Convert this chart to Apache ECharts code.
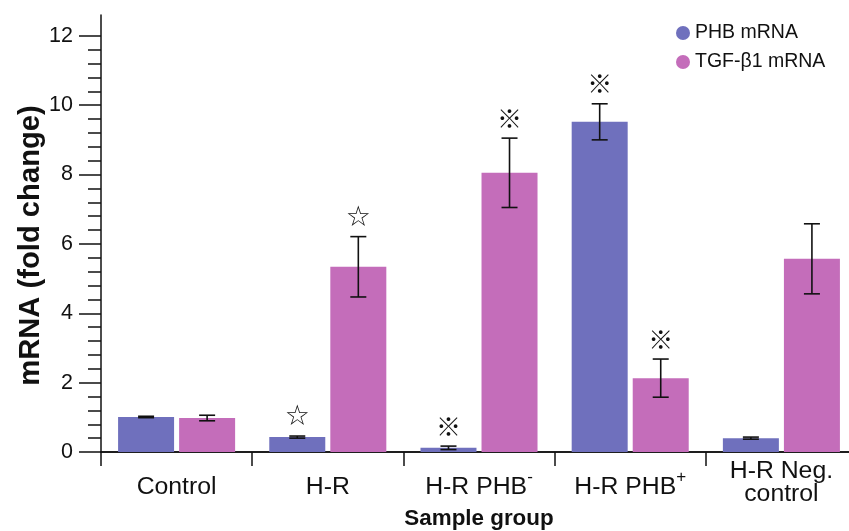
<!DOCTYPE html>
<html>
<head>
<meta charset="utf-8">
<script src="https://cdn.jsdelivr.net/npm/echarts@6/dist/echarts.min.js"></script>
<style>
html,body{margin:0;padding:0;background:#fff;}
#chart{width:849px;height:531px;}
</style>
</head>
<body>
<div id="chart"></div>
<script>
const categories = ['Control', 'H-R', 'H-R PHB-', 'H-R PHB+', 'H-R Neg.\ncontrol'];
const phbMean = [1.01, 0.43, 0.12, 9.52, 0.40];
const phbErr = [0.02, 0.03, 0.05, 0.52, 0.03];
const tgfMean = [0.98, 5.34, 8.05, 2.13, 5.57];
const tgfErr = [0.08, 0.87, 1.00, 0.55, 1.01];
const phbMark = ['', '☆', '※', '※', ''];
const tgfMark = ['', '☆', '※', '※', ''];
const yTicks = [0, 2, 4, 6, 8, 10, 12];
const yMinorTicks = [0.4, 0.8, 1.2, 1.6, 2.4, 2.8, 3.2, 3.6, 4.4, 4.8, 5.2, 5.6, 6.4, 6.8, 7.2, 7.6, 8.4, 8.8, 9.2, 9.6, 10.4, 10.8, 11.2, 11.6];

const FONT = 'Liberation Sans, Arial, Helvetica, sans-serif';
const PHB_COLOR = '#6f70bd';
const TGF_COLOR = '#c46dba';
const BAR_W = 56;
const BAR_GAP = '9%';

function errRender(seriesIdx, means, errs, marks) {
  return function (params, api) {
    const i = api.value(0);
    const m = means[params.dataIndex];
    const e = errs[params.dataIndex];
    let off;
    const layout = api.barLayout ? api.barLayout({count: 2, barWidth: BAR_W, barGap: BAR_GAP}) : null;
    if (layout && layout[seriesIdx]) {
      off = layout[seriesIdx].offsetCenter;
    } else {
      off = (seriesIdx === 0 ? -1 : 1) * (BAR_W * 1.09) / 2;
    }
    const hi = api.coord([i, m + e]);
    const lo = api.coord([i, m - e]);
    const x = hi[0] + off;
    const cap = 8;
    const st = {stroke: '#111', lineWidth: 1.6};
    const children = [
      {type: 'line', shape: {x1: x, y1: hi[1], x2: x, y2: lo[1]}, style: st},
      {type: 'line', shape: {x1: x - cap, y1: hi[1], x2: x + cap, y2: hi[1]}, style: st},
      {type: 'line', shape: {x1: x - cap, y1: lo[1], x2: x + cap, y2: lo[1]}, style: st}
    ];
    const mk = marks[params.dataIndex];
    if (mk) {
      const isStar = mk === '☆';
      children.push({
        type: 'text',
        x: x,
        y: hi[1] - (isStar ? 18 : 20),
        style: {
          text: mk,
          fontSize: isStar ? 28 : 25,
          fontFamily: isStar ? 'DejaVu Sans' : 'Noto Sans CJK JP, DejaVu Sans',
          fill: '#111',
          align: 'center',
          verticalAlign: 'middle'
        }
      });
    }
    return {type: 'group', children: children};
  };
}

const chart = echarts.init(document.getElementById('chart'), null, {renderer: 'canvas'});
const xData = categories.map(function (c) {
  if (c.indexOf('\n') >= 0) {
    return {value: c, textStyle: {lineHeight: 23, verticalAlign: 'bottom', fontSize: 24.8, color: '#111', fontFamily: FONT}};
  }
  return c;
});

chart.setOption({
  animation: false,
  backgroundColor: '#fff',
  textStyle: {fontFamily: FONT},
  grid: {left: 101, top: 15, right: -8, bottom: 79, containLabel: false, outerBoundsMode: 'none'},
  legend: {
    orient: 'vertical',
    left: 671,
    top: 18,
    icon: 'circle',
    itemWidth: 14,
    itemHeight: 14,
    itemGap: 9,
    textStyle: {fontSize: 19.5, color: '#111', fontFamily: FONT},
    data: ['PHB mRNA', 'TGF-β1 mRNA']
  },
  xAxis: [{
    type: 'category',
    data: xData,
    boundaryGap: true,
    position: 'bottom',
    axisLine: {show: true, lineStyle: {color: '#111', width: 1.5}},
    axisTick: {show: true, length: 14, alignWithLabel: false, interval: 0, lineStyle: {color: '#111', width: 1.5}},
    axisLabel: {
      interval: 0,
      fontSize: 24.8,
      color: '#111',
      margin: 53.5,
      lineHeight: 37,
      verticalAlign: 'bottom',
      fontFamily: FONT,
      formatter: function (v) {
        return v.replace(/PHB-$/, 'PHB{sup|-}').replace(/PHB\+$/, 'PHB{sup|+}');
      },
      rich: {
        sup: {fontSize: 17, lineHeight: 26, verticalAlign: 'top', color: '#111', fontFamily: FONT}
      }
    },
    name: 'Sample group',
    nameLocation: 'middle',
    nameGap: 56,
    nameMoveOverlap: false,
    nameTextStyle: {fontSize: 22.4, fontWeight: 'bold', color: '#111', fontFamily: FONT},
    splitLine: {show: false}
  }, {
    type: 'category',
    data: categories,
    position: 'top',
    axisLine: {show: true, lineStyle: {color: '#111', width: 1.5}},
    axisTick: {show: false},
    axisLabel: {show: false},
    splitLine: {show: false}
  }],
  yAxis: [{
    type: 'value',
    min: 0,
    max: 12.6,
    position: 'left',
    axisLine: {show: true, lineStyle: {color: '#111', width: 1.5}},
    axisTick: {show: true, length: 22, customValues: yTicks, lineStyle: {color: '#111', width: 1.5}},
    axisLabel: {show: true, customValues: yTicks, fontSize: 21.5, color: '#111', margin: 28, fontFamily: FONT},
    splitLine: {show: false},
    name: 'mRNA (fold change)',
    nameLocation: 'middle',
    nameGap: 56,
    nameMoveOverlap: false,
    nameTextStyle: {fontSize: 29.2, fontWeight: 'bold', color: '#111', fontFamily: FONT, padding: [0, 24, 0, 0]}
  }, {
    type: 'value',
    min: 0,
    max: 12.6,
    position: 'left',
    offset: 0,
    axisLine: {show: false},
    axisTick: {show: true, length: 13, customValues: yMinorTicks, lineStyle: {color: '#111', width: 1.5}},
    axisLabel: {show: false},
    splitLine: {show: false}
  }],
  series: [{
    name: 'PHB mRNA',
    type: 'bar',
    data: phbMean,
    barWidth: BAR_W,
    barGap: BAR_GAP,
    itemStyle: {color: PHB_COLOR},
    z: 2
  }, {
    name: 'TGF-β1 mRNA',
    type: 'bar',
    data: tgfMean,
    barWidth: BAR_W,
    barGap: BAR_GAP,
    itemStyle: {color: TGF_COLOR},
    z: 2
  }, {
    type: 'custom',
    data: categories.map(function (c, i) { return [i, phbMean[i]]; }),
    renderItem: errRender(0, phbMean, phbErr, phbMark),
    z: 5,
    silent: true
  }, {
    type: 'custom',
    data: categories.map(function (c, i) { return [i, tgfMean[i]]; }),
    renderItem: errRender(1, tgfMean, tgfErr, tgfMark),
    z: 5,
    silent: true
  }]
});
</script>
</body>
</html>
